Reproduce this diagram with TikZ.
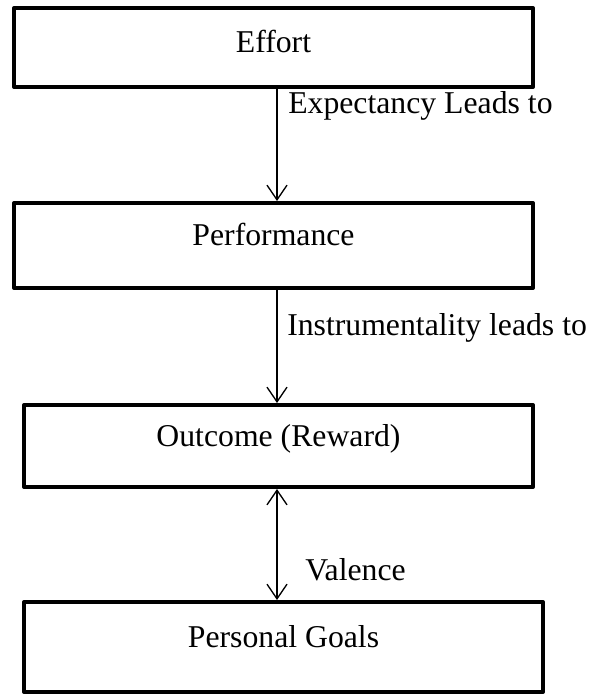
\documentclass[tikz,border=0pt]{standalone}
\usepackage{fontspec}
\setmainfont{Liberation Serif}
\usetikzlibrary{arrows.meta}
\begin{document}
\begin{tikzpicture}[x=0.75pt,y=-0.75pt,
  box/.style={draw, line width=3pt, line join=round, rectangle, inner sep=0pt,
    font=\fontsize{23.8pt}{28pt}\selectfont, text height=9pt, text depth=9pt},
  lbl/.style={font=\fontsize{23.8pt}{28pt}\selectfont, inner sep=0pt, anchor=base west},
  arr/.style={line width=1pt, -{Straight Barb[length=11pt,width=15pt,line width=1pt]}},
  darr/.style={line width=1pt, {Straight Barb[length=11pt,width=15pt,line width=1pt]}-{Straight Barb[length=11pt,width=15pt,line width=1pt]}}]
\useasboundingbox (0,0) rectangle (592,696);
\node[box, minimum width=519*0.75pt, minimum height=79*0.75pt, text height=12.75pt, text depth=5.25pt] (effort) at (273.5,47.5) {Effort};
\node[box, minimum width=519*0.75pt, minimum height=85*0.75pt] (perf) at (273.5,245.5) {Performance};
\node[box, minimum width=509*0.75pt, minimum height=82*0.75pt] (outc) at (278.5,446) {Outcome (Reward)};
\node[box, minimum width=519*0.75pt, minimum height=90*0.75pt] (goals) at (283.5,647) {Personal Goals};
\coordinate (ax) at (277,0);
\draw[arr] (effort.south -| ax) -- (perf.north -| ax);
\draw[arr] (perf.south -| ax) -- (outc.north -| ax);
\draw[darr] (outc.south -| ax) -- (goals.north -| ax);
\node[lbl] (l1) at (288,113) {Expectancy Leads to};
\node[lbl] (l2) at (287,335) {Instrumentality leads to};
\node[lbl] (l3) at (305,580) {Valence};
\end{tikzpicture}
\end{document}
